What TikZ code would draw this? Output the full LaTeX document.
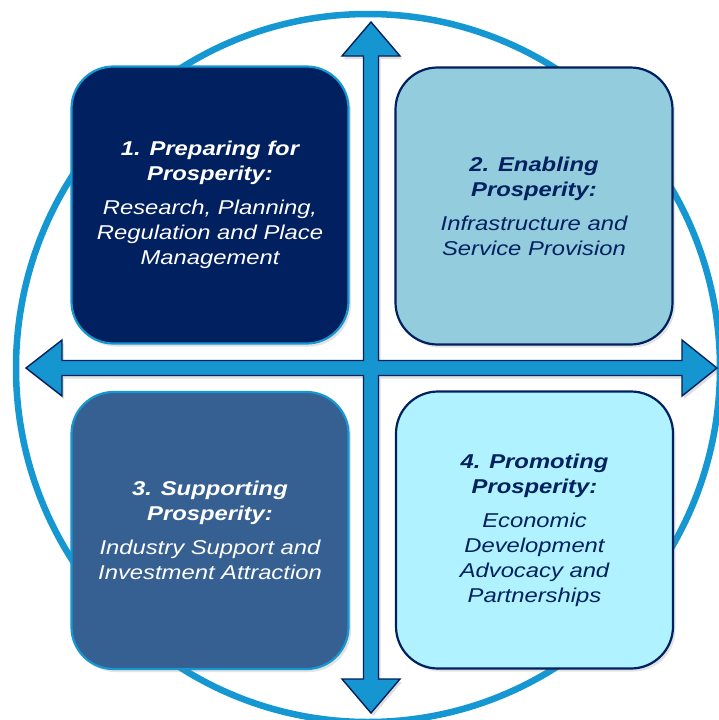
\documentclass[tikz,border=0pt]{standalone}
\usepackage{fontspec}
\setmainfont{Liberation Sans}[FakeStretch=1.19]
\usetikzlibrary{shadows}
\definecolor{navy}{HTML}{002060}
\definecolor{ringblue}{HTML}{1597D2}
\definecolor{arrowblue}{HTML}{1596D0}
\definecolor{fillA}{HTML}{002060}
\definecolor{fillB}{HTML}{93CDDD}
\definecolor{fillC}{HTML}{376092}
\definecolor{fillD}{HTML}{B0F2FF}
\tikzset{
  quad/.style={rounded corners=42pt, minimum width=277pt, minimum height=277pt,
    line width=2.2pt, align=center, inner sep=0pt,
    font=\fontsize{20}{25}\selectfont\itshape,
    drop shadow={opacity=0.22, shadow xshift=2.5pt, shadow yshift=-3pt}},
  lightedge/.style={quad, draw=ringblue},
  darkedge/.style={quad, draw=navy},
  bigarrow/.style={fill=arrowblue, draw=navy, line width=1.4pt, line join=miter,
    drop shadow={opacity=0.25, shadow xshift=2pt, shadow yshift=-3pt}}
}
\begin{document}
\begin{tikzpicture}[x=1pt,y=-1pt]
\useasboundingbox (0,0) rectangle (718,720);
\fill[white] (0,0) rectangle (718,720);
% ring
\draw[ringblue, line width=6.5pt] (368,368) ellipse [x radius=352, y radius=354];
% boxes
\node[lightedge, fill=fillA, text=white] (b1) at (210,205)
  {\textbf{1. Preparing for}\\\textbf{Prosperity:}\\[9pt]Research, Planning,\\Regulation and Place\\Management};
\node[darkedge, fill=fillB, text=navy] (b2) at (534,206)
  {\textbf{2. Enabling}\\\textbf{Prosperity:}\\[9pt]Infrastructure and\\Service Provision};
\node[lightedge, fill=fillC, text=white] (b3) at (210,530.5)
  {\textbf{3. Supporting}\\\textbf{Prosperity:}\\[9pt]Industry Support and\\Investment Attraction};
\node[darkedge, fill=fillD, text=navy] (b4) at (534.5,530)
  {\textbf{4. Promoting}\\\textbf{Prosperity:}\\[9pt]Economic\\Development\\Advocacy and\\Partnerships};
% four-way arrow
\draw[bigarrow] (371,22) -- (400,56) -- (378.5,56) -- (378.5,360.5) -- (682,360.5)
  -- (682,340) -- (717,368) -- (682,396) -- (682,375.5) -- (378.5,375.5)
  -- (378.5,679) -- (400,679) -- (371,713) -- (342,679) -- (363.5,679)
  -- (363.5,375.5) -- (62,375.5) -- (62,396) -- (26,368) -- (62,340)
  -- (62,360.5) -- (363.5,360.5) -- (363.5,56) -- (342,56) -- cycle;
\end{tikzpicture}
\end{document}
